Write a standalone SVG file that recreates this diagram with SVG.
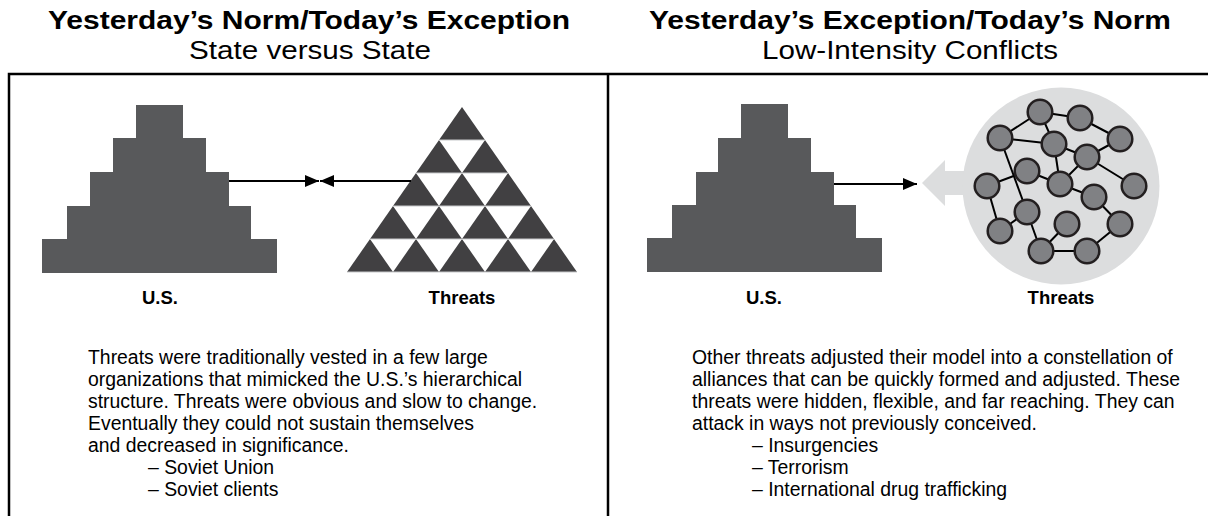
<svg xmlns="http://www.w3.org/2000/svg" width="1208" height="516" viewBox="0 0 1208 516">
<style>
text{font-family:"Liberation Sans",Arial,sans-serif;fill:#000}
.title{font-size:26px;font-weight:bold;text-anchor:middle}
.sub{font-size:26px;text-anchor:middle}
.lbl{font-size:18.5px;font-weight:bold;text-anchor:middle}
.body{font-size:19.4px}
.frame{stroke:#000;stroke-width:2.5;fill:none}
.pyr{fill:#58595b}
.tri{fill:#414042}
.seam{stroke:#c8c9cb;stroke-width:1}
.conn{stroke:#000;stroke-width:2;fill:none}
.edge{stroke:#000;stroke-width:2;fill:none}
.nd{fill:#808184;stroke:#231f20;stroke-width:2.5}
</style>
<defs>
<marker id="ah" markerUnits="userSpaceOnUse" markerWidth="14" markerHeight="12" viewBox="0 0 13 11" refX="13" refY="5.5" orient="auto">
<path d="M0,0 L13,5.5 L0,11 Z" fill="#000"/>
</marker>
</defs>
<rect width="1208" height="516" fill="#fff"/>
<g id="titles">
<text class="title" x="309" y="29" textLength="522" lengthAdjust="spacingAndGlyphs">Yesterday’s Norm/Today’s Exception</text>
<text class="sub" x="310" y="59" textLength="242" lengthAdjust="spacingAndGlyphs">State versus State</text>
<text class="title" x="910" y="29" textLength="522" lengthAdjust="spacingAndGlyphs">Yesterday’s Exception/Today’s Norm</text>
<text class="sub" x="910" y="59" textLength="296" lengthAdjust="spacingAndGlyphs">Low-Intensity Conflicts</text>
</g>
<g id="frame">
<path class="frame" d="M9,516 L9,74 L1208,74 M608,74 L608,516"/>
</g>
<g id="us-left">
<path class="pyr" d="M42,273 L42,239 L67,239 L67,206 L90,206 L90,172 L113,172 L113,138 L136,138 L136,105 L183,105 L183,138 L206,138 L206,172 L229,172 L229,206 L251,206 L251,239 L277,239 L277,273 Z"/>
<text class="lbl" x="160" y="304">U.S.</text>
</g>
<g id="threats-left">
<g class="tri">
<polygon points="439,140 462,107 485,140"/>
<polygon points="416,173 439,140 462,173"/><polygon points="462,173 485,140 508,173"/>
<polygon points="393,206 416,173 439,206"/><polygon points="439,206 462,173 485,206"/><polygon points="485,206 508,173 531,206"/>
<polygon points="370,239 393,206 416,239"/><polygon points="416,239 439,206 462,239"/><polygon points="462,239 485,206 508,239"/><polygon points="508,239 531,206 554,239"/>
<polygon points="347,272 370,239 393,272"/><polygon points="393,272 416,239 439,272"/><polygon points="439,272 462,239 485,272"/><polygon points="485,272 508,239 531,272"/><polygon points="531,272 554,239 577,272"/>
</g>
<g class="seam">
<line x1="439" y1="140" x2="485" y2="140"/>
<line x1="416" y1="173" x2="508" y2="173"/>
<line x1="393" y1="206" x2="531" y2="206"/>
<line x1="370" y1="239" x2="554" y2="239"/>
<line x1="347" y1="272" x2="577" y2="272"/>
</g>
<text class="lbl" x="462" y="304">Threats</text>
</g>
<g id="us-right">
<path class="pyr" d="M647,272 L647,238 L672,238 L672,205 L696,205 L696,172 L718,172 L718,138 L741,138 L741,104 L788,104 L788,138 L811,138 L811,172 L834,172 L834,205 L856,205 L856,238 L882,238 L882,272 Z"/>
<text class="lbl" x="764" y="304">U.S.</text>
</g>
<g id="threats-right">
<path d="M922,183 L945,160 L945,171 L975,171 L975,195 L945,195 L945,206 Z" fill="#dcddde"/>
<circle cx="1061" cy="186" r="98.5" fill="#dcddde"/>
<g class="edge">
<line x1="1040" y1="112" x2="1080" y2="118"/>
<line x1="1040" y1="112" x2="1000" y2="138"/>
<line x1="1040" y1="112" x2="1054" y2="144"/>
<line x1="1080" y1="118" x2="1120" y2="139"/>
<line x1="1000" y1="138" x2="1054" y2="144"/>
<line x1="1000" y1="138" x2="1027" y2="212"/>
<line x1="1054" y1="144" x2="1087" y2="157"/>
<line x1="1054" y1="144" x2="1060" y2="184"/>
<line x1="1087" y1="157" x2="1120" y2="139"/>
<line x1="1087" y1="157" x2="1060" y2="184"/>
<line x1="1087" y1="157" x2="1134" y2="186"/>
<line x1="1027" y1="171" x2="987" y2="186"/>
<line x1="1027" y1="171" x2="1060" y2="184"/>
<line x1="987" y1="186" x2="1000" y2="231"/>
<line x1="1000" y1="231" x2="1027" y2="212"/>
<line x1="1027" y1="212" x2="1041" y2="251"/>
<line x1="1060" y1="184" x2="1094" y2="197"/>
<line x1="1094" y1="197" x2="1120" y2="224"/>
<line x1="1120" y1="224" x2="1087" y2="251"/>
<line x1="1087" y1="251" x2="1041" y2="251"/>
<line x1="1041" y1="251" x2="1067" y2="224"/>
</g>
<g class="nd">
<circle cx="1040" cy="112" r="12.3"/>
<circle cx="1080" cy="118" r="12.3"/>
<circle cx="1000" cy="138" r="12.3"/>
<circle cx="1120" cy="139" r="12.3"/>
<circle cx="1054" cy="144" r="12.3"/>
<circle cx="1087" cy="157" r="12.3"/>
<circle cx="1027" cy="171" r="12.3"/>
<circle cx="987" cy="186" r="12.3"/>
<circle cx="1060" cy="184" r="12.3"/>
<circle cx="1134" cy="186" r="12.3"/>
<circle cx="1094" cy="197" r="12.3"/>
<circle cx="1027" cy="212" r="12.3"/>
<circle cx="1120" cy="224" r="12.3"/>
<circle cx="1067" cy="224" r="12.3"/>
<circle cx="1000" cy="231" r="12.3"/>
<circle cx="1041" cy="251" r="12.3"/>
<circle cx="1087" cy="251" r="12.3"/>
</g>
<text class="lbl" x="1061" y="304">Threats</text>
</g>
<g id="connectors">
<line class="conn" x1="229" y1="181" x2="319" y2="181" marker-end="url(#ah)"/>
<line class="conn" x1="411" y1="181" x2="320" y2="181" marker-end="url(#ah)"/>
<line class="conn" x1="834" y1="184" x2="917" y2="184" marker-end="url(#ah)"/>
</g>
<g id="text-left">
<text class="body" x="88" y="364">Threats were traditionally vested in a few large</text>
<text class="body" x="88" y="386">organizations that mimicked the U.S.’s hierarchical</text>
<text class="body" x="88" y="408">structure. Threats were obvious and slow to change.</text>
<text class="body" x="88" y="430">Eventually they could not sustain themselves</text>
<text class="body" x="88" y="452">and decreased in significance.</text>
<text class="body" x="148" y="474">– Soviet Union</text>
<text class="body" x="148" y="496">– Soviet clients</text>
</g>
<g id="text-right">
<text class="body" x="692" y="364">Other threats adjusted their model into a constellation of</text>
<text class="body" x="692" y="386">alliances that can be quickly formed and adjusted. These</text>
<text class="body" x="692" y="408">threats were hidden, flexible, and far reaching. They can</text>
<text class="body" x="692" y="430">attack in ways not previously conceived.</text>
<text class="body" x="752" y="452">– Insurgencies</text>
<text class="body" x="752" y="474">– Terrorism</text>
<text class="body" x="752" y="496">– International drug trafficking</text>
</g>
</svg>
